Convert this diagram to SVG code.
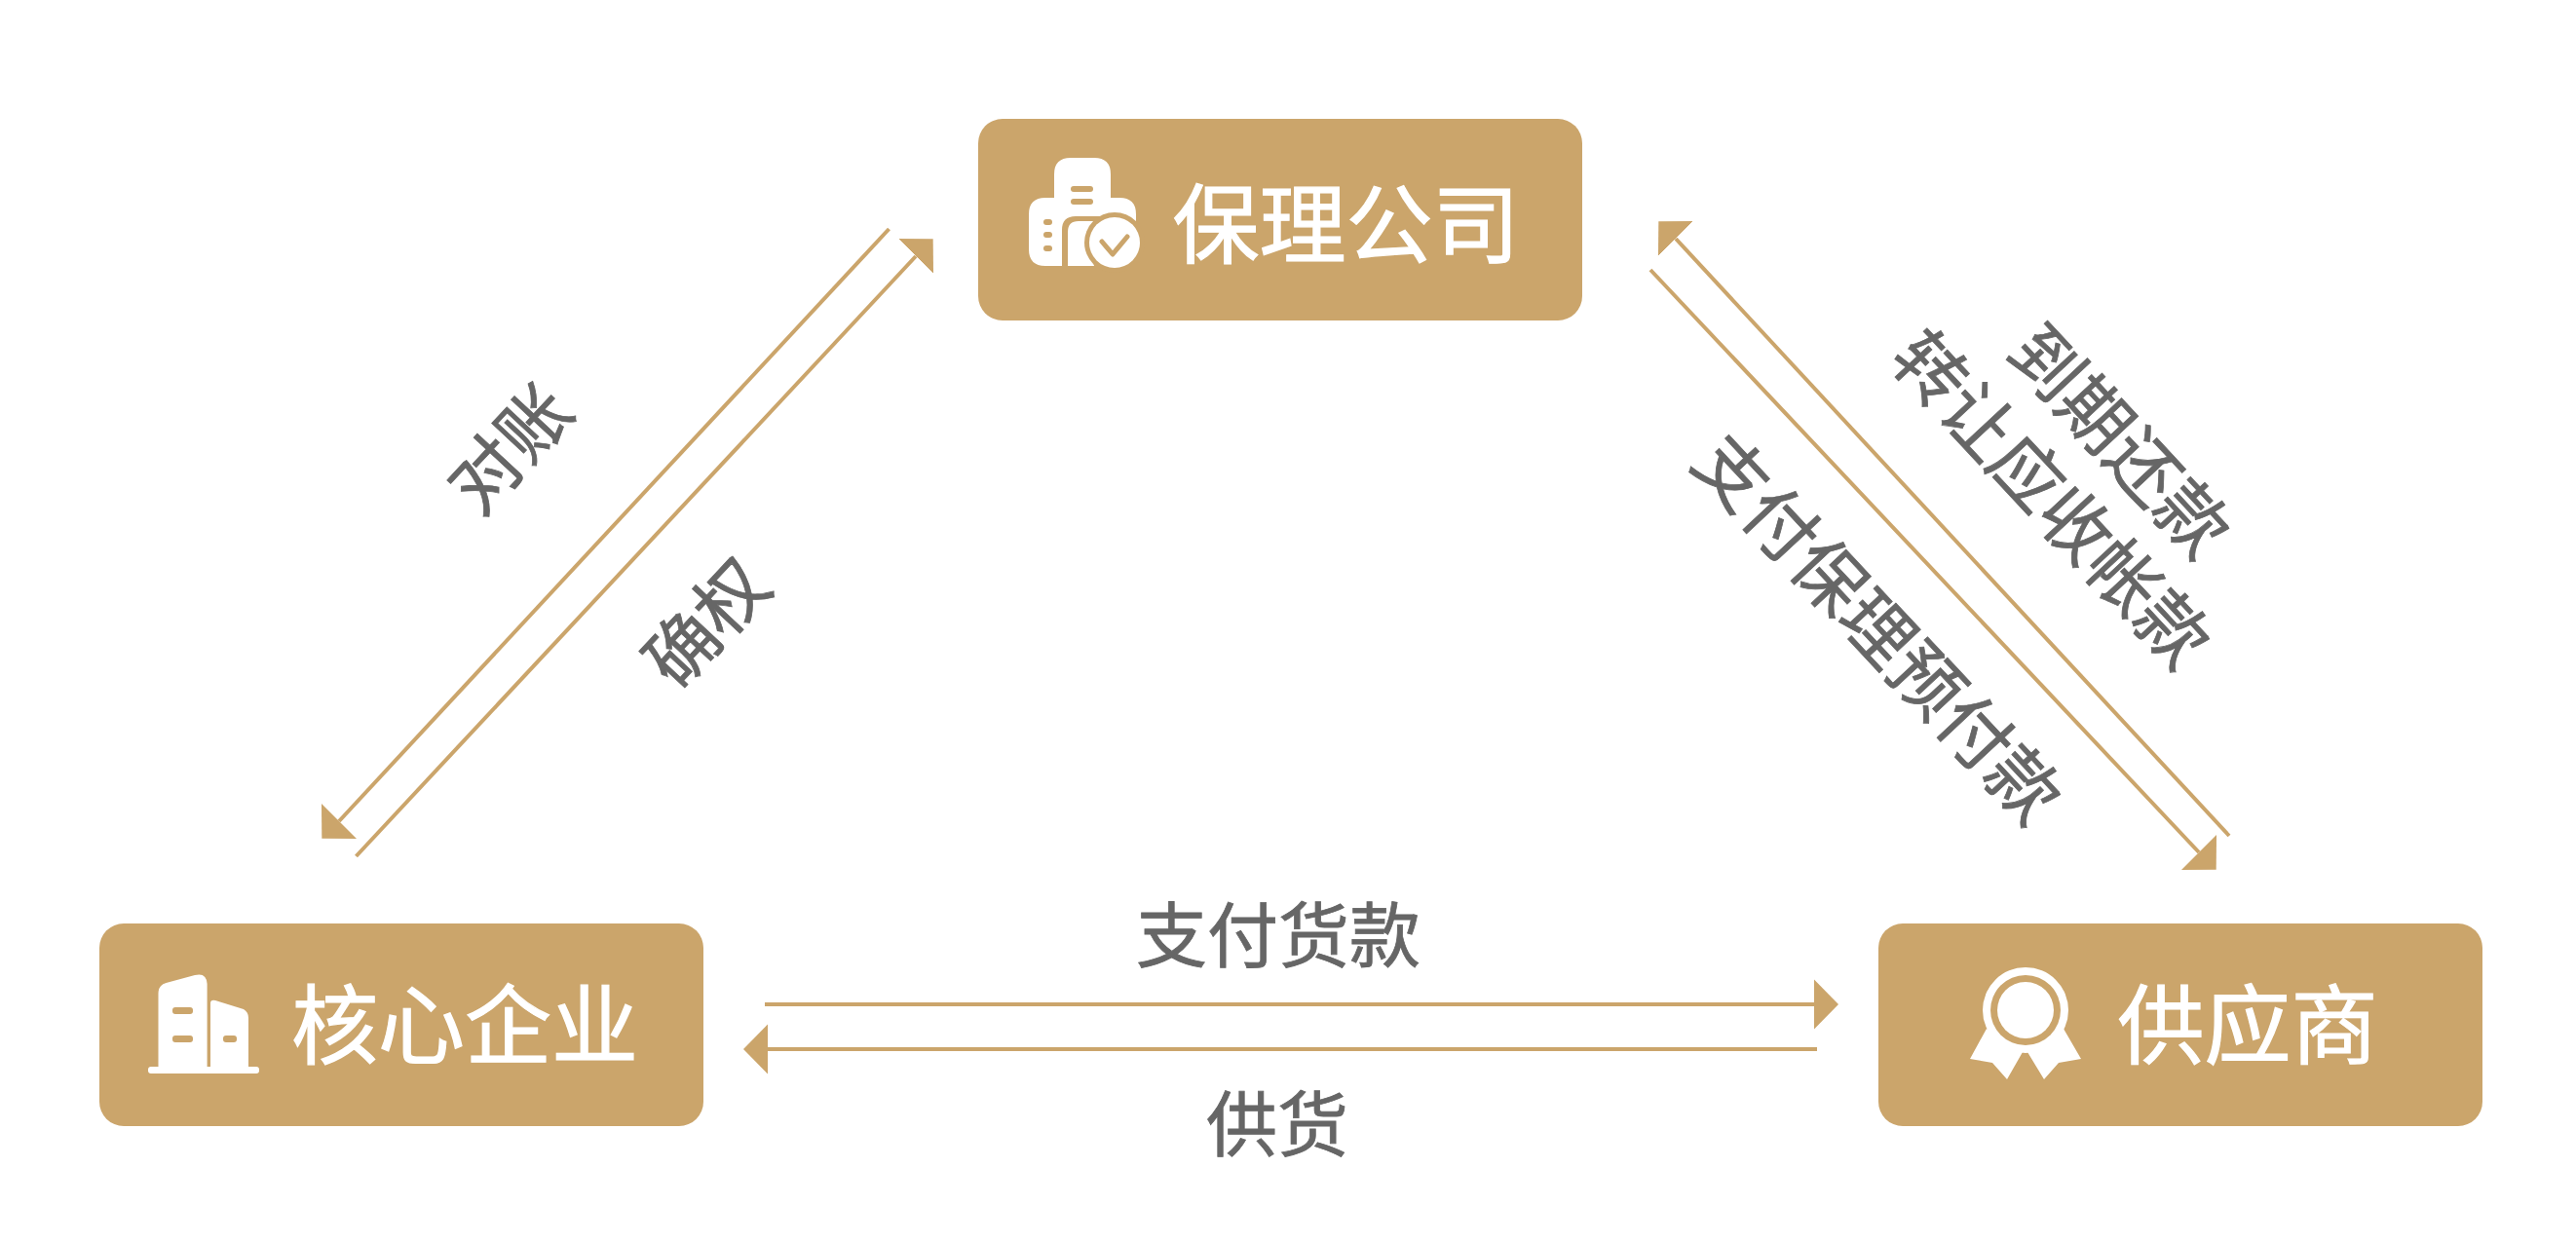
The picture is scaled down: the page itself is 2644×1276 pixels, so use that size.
<svg xmlns="http://www.w3.org/2000/svg" width="2644" height="1276" viewBox="0 0 2644 1276">
<style>
text{font-family:"Noto Sans CJK SC","Noto Sans",sans-serif;text-anchor:middle;font-weight:400}
.box{fill:#cba56b}
.title{font-size:89px;fill:#fff;stroke:#fff;stroke-width:1.200}
.lab{font-size:73px;fill:#666;stroke:#666;stroke-width:.8}
.ln{fill:none;stroke:#cba56b;stroke-width:4}
.h{marker-end:url(#head)}
.se{marker-end:url(#head-se)}
.nw{marker-end:url(#head-nw)}
.ne{marker-end:url(#head-ne)}
.sw{marker-end:url(#head-sw)}
.w{fill:#fff}
.g{fill:#cba56b}
</style>
<defs>
<marker id="head" markerUnits="userSpaceOnUse" markerWidth="27" markerHeight="52" refX="0" refY="26" orient="auto" viewBox="0 0 27 52"><path d="M0 0.500L25 26L0 51.500z" fill="#cba56b"/></marker>
<marker id="head-se" markerUnits="userSpaceOnUse" markerWidth="27" markerHeight="52" refX="0" refY="26" orient="45" viewBox="0 0 27 52"><path d="M0 0.500L25 26L0 51.500z" fill="#cba56b"/></marker>
<marker id="head-nw" markerUnits="userSpaceOnUse" markerWidth="27" markerHeight="52" refX="0" refY="26" orient="225" viewBox="0 0 27 52"><path d="M0 0.500L25 26L0 51.500z" fill="#cba56b"/></marker>
<marker id="head-ne" markerUnits="userSpaceOnUse" markerWidth="27" markerHeight="52" refX="0" refY="26" orient="-45" viewBox="0 0 27 52"><path d="M0 0.500L25 26L0 51.500z" fill="#cba56b"/></marker>
<marker id="head-sw" markerUnits="userSpaceOnUse" markerWidth="27" markerHeight="52" refX="0" refY="26" orient="135" viewBox="0 0 27 52"><path d="M0 0.500L25 26L0 51.500z" fill="#cba56b"/></marker>
</defs>
<rect width="2644" height="1276" fill="#fff"/>
<g id="connectors">
<line class="ln h" x1="785" y1="1031" x2="1862" y2="1031"/>
<line class="ln h" x1="1865" y1="1077" x2="788" y2="1077"/>
<line class="ln nw" x1="2288" y1="858" x2="1720" y2="245"/>
<line class="ln se" x1="1694" y1="277" x2="2257" y2="875"/>
<line class="ln sw" x1="912.500" y1="235" x2="348" y2="843"/>
<line class="ln ne" x1="365.500" y1="879" x2="940" y2="263"/>
</g>
<g id="edge-labels">
<text class="lab" x="1312" y="987">支付货款</text>
<text class="lab" x="1311" y="1181">供货</text>
<text class="lab" transform="translate(2176 452) rotate(47)" y="27">到期还款</text>
<text class="lab" transform="translate(2106 512) rotate(47)" y="27">转让应收帐款</text>
<text class="lab" transform="translate(1928 645) rotate(47)" y="27">支付保理预付款</text>
<text class="lab" transform="translate(523 460) rotate(-47)" y="27">对账</text>
<text class="lab" transform="translate(725 639) rotate(-47)" y="27">确权</text>
</g>
<g id="node-factoring">
<rect class="box" x="1004" y="122" width="620" height="207" rx="25"/>
<path class="w" d="M1056 220q0-17 17-17h9v-24q0-17 17-17h24q17 0 17 17v24h9q17 0 17 17v8q-2 4-6 1l-14-7H1104q-14 0-14 14V273h-17q-17 0-17-17z"/>
<path class="w" d="M1096 273v-35q0-11 11-11h20l-8 30 4 16z"/>
<circle class="g" cx="1144" cy="249" r="31"/>
<circle class="w" cx="1144" cy="249" r="26"/>
<path d="M1131 248L1142 261L1157 243" fill="none" stroke="#cba56b" stroke-width="5" stroke-linecap="round" stroke-linejoin="round"/>
<rect class="g" x="1099" y="191" width="23" height="6" rx="3"/>
<rect class="g" x="1099" y="204" width="23" height="6" rx="3"/>
<rect class="g" x="1071" y="225" width="9" height="6" rx="3"/>
<rect class="g" x="1071" y="238" width="9" height="6" rx="3"/>
<rect class="g" x="1071" y="252" width="9" height="6" rx="3"/>
<text class="title" x="1381.500" y="263">保理公司</text>
</g>
<g id="node-core">
<rect class="box" x="102" y="948" width="620" height="208" rx="25"/>
<rect class="w" x="152" y="1095" width="114" height="7" rx="3"/>
<path class="w" d="M162.500 1096V1020q0-9 8-11L200 1001q12-3 12.600 9V1096z"/>
<path class="w" d="M216 1096V1030q0-4 5-3L250 1036q5 3 5 9V1096z"/>
<rect class="g" x="177" y="1034" width="21" height="7" rx="3"/>
<rect class="g" x="177" y="1063" width="21" height="7" rx="3"/>
<rect class="g" x="229" y="1063" width="14" height="7" rx="3"/>
<text class="title" x="477" y="1085">核心企业</text>
</g>
<g id="node-supplier">
<rect class="box" x="1928" y="948" width="620" height="208" rx="25"/>
<path class="w" d="M2039 1056L2022 1087L2045 1091L2060 1108L2076 1080zM2118 1056L2136 1087L2113 1091L2098 1108L2081 1080z"/>
<circle class="w" cx="2079" cy="1037" r="44"/>
<circle class="g" cx="2079" cy="1037" r="36"/>
<circle class="w" cx="2079" cy="1037" r="29"/>
<text class="title" x="2307" y="1085">供应商</text>
</g>
</svg>
